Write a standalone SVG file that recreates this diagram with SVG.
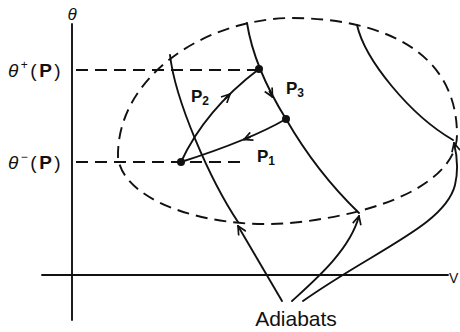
<svg xmlns="http://www.w3.org/2000/svg" width="460" height="332" viewBox="0 0 460 332">
<style>
.ln{fill:none;stroke:#111;stroke-width:1.9;stroke-linecap:round}
.ds{fill:none;stroke:#111;stroke-width:1.9;stroke-dasharray:12 7}
.tx{font-family:"Liberation Sans","DejaVu Sans",sans-serif;fill:#111}
.pl{font-family:"Liberation Sans","DejaVu Sans",sans-serif;font-weight:bold;font-size:17px;fill:#111}
</style>
<defs>
<marker id="ah" viewBox="0 0 10 10" refX="9" refY="5" markerWidth="10" markerHeight="10" markerUnits="userSpaceOnUse" orient="auto">
<path d="M0.5,0.8 L9,5 L0.5,9.2" fill="none" stroke="#111" stroke-width="1.7"/>
</marker>
</defs>
<g id="axes">
<line class="ln" x1="72" y1="24" x2="72" y2="320"/>
<line class="ln" x1="42" y1="275" x2="448" y2="275"/>
<text class="tx" x="72" y="20" font-size="17" font-style="italic" text-anchor="middle">θ</text>
<text class="tx" x="449" y="283" font-size="14">V</text>
</g>
<g id="labels">
<text class="tx" x="8" y="77" font-size="19" letter-spacing="2.5"><tspan font-style="italic">θ</tspan><tspan font-size="12" dy="-8">+</tspan><tspan dy="8">(</tspan><tspan font-weight="bold">P</tspan>)</text>
<text class="tx" x="8" y="169" font-size="19" letter-spacing="2.5"><tspan font-style="italic">θ</tspan><tspan font-size="12" dy="-8">−</tspan><tspan dy="8">(</tspan><tspan font-weight="bold">P</tspan>)</text>
</g>
<g id="ellipse">
<path class="ds" d="M118,158 C116,80 200,20 290,18 C380,18 457,50 457,135 C457,175 400,210 300,222 C220,232 125,205 118,158 Z"/>
</g>
<g id="guides">
<line class="ds" x1="76" y1="70" x2="257" y2="70"/>
<line class="ds" x1="76" y1="162" x2="240" y2="162"/>
</g>
<g id="adiabats">
<path class="ln" d="M170,55 C175,100 210,180 238,222"/>
<path class="ln" d="M247,23 C252,55 268,90 286,119 C305,152 330,185 359,213"/>
<path class="ln" d="M357,25 C365,60 410,115 453,140"/>
</g>
<g id="connectors">
<path class="ln" d="M181,162 Q205,110 259,69"/>
<path class="ln" d="M286,119 Q250,140 181,162"/>
<path class="ln" marker-end="url(#ah)" d="M225.4,98.5 L230,94"/>
<path class="ln" marker-end="url(#ah)" d="M269.5,91.5 L272.5,97"/>
<path class="ln" marker-end="url(#ah)" d="M250,137 L244,139.5"/>
<path class="ln" marker-end="url(#ah)" d="M282,301 L238,226"/>
<path class="ln" marker-end="url(#ah)" d="M292,301 C315,280 350,250 359,216"/>
<path class="ln" marker-end="url(#ah)" d="M303,301 C375,250 445,225 455,185 C459,168 457,155 454,143"/>
</g>
<g id="points">
<circle cx="259" cy="69" r="4" fill="#111"/>
<circle cx="286" cy="119" r="4" fill="#111"/>
<circle cx="181" cy="162" r="4" fill="#111"/>
</g>
<g id="plabels">
<text class="pl" x="191" y="102">P<tspan font-size="12" dy="3">2</tspan></text>
<text class="pl" x="286" y="94">P<tspan font-size="12" dy="3">3</tspan></text>
<text class="pl" x="257" y="162">P<tspan font-size="12" dy="3">1</tspan></text>
</g>
<text class="tx" x="296" y="326" font-size="21" text-anchor="middle">Adiabats</text>
</svg>
